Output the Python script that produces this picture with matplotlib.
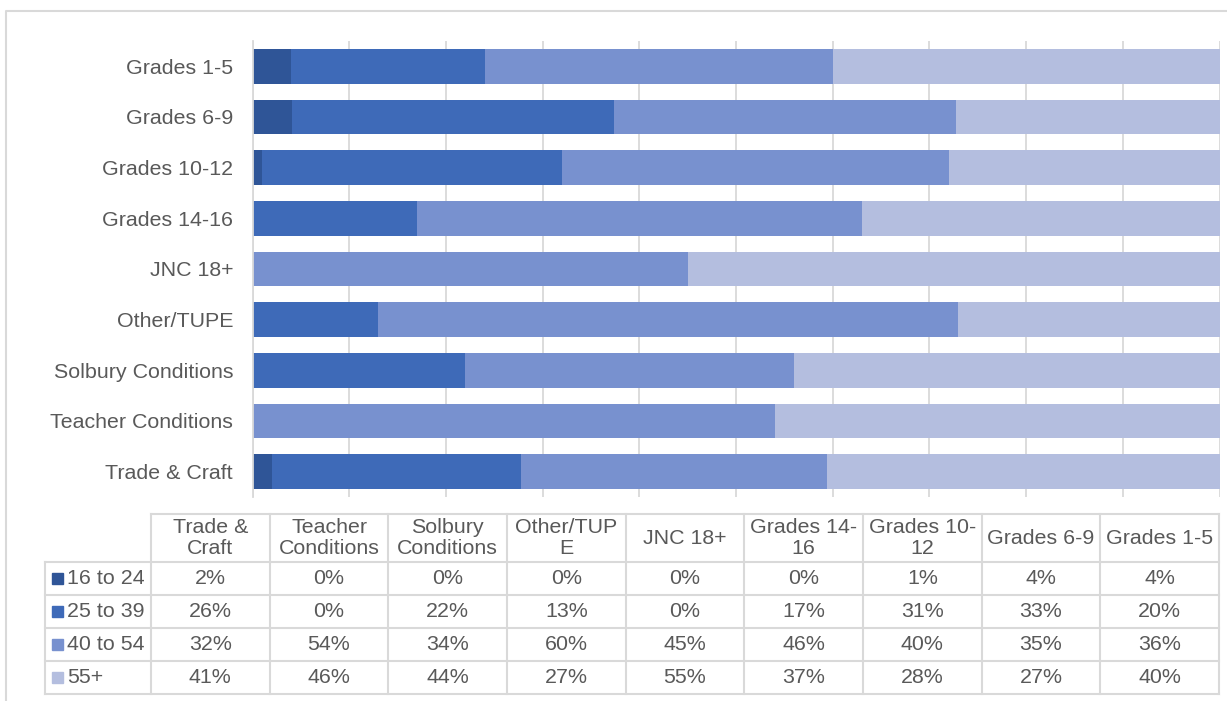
import numpy as np
import matplotlib
matplotlib.use("Agg")
import matplotlib.pyplot as plt
from matplotlib.patches import Rectangle

plt.rcParams['font.family'] = ['Liberation Sans', 'DejaVu Sans']

# data, in table order (bottom bar first)
categories = ["Trade & Craft", "Teacher Conditions", "Solbury Conditions", "Other/TUPE",
              "JNC 18+", "Grades 14-16", "Grades 10-12", "Grades 6-9", "Grades 1-5"]
table_headers = ["Trade &\nCraft", "Teacher\nConditions", "Solbury\nConditions", "Other/TUP\nE",
                 "JNC 18+", "Grades 14-\n16", "Grades 10-\n12", "Grades 6-9", "Grades 1-5"]
series_names = ["16 to 24", "25 to 39", "40 to 54", "55+"]
age_16_24 = [2, 0, 0, 0, 0, 0, 1, 4, 4]
age_25_39 = [26, 0, 22, 13, 0, 17, 31, 33, 20]
age_40_54 = [32, 54, 34, 60, 45, 46, 40, 35, 36]
age_55_plus = [41, 46, 44, 27, 55, 37, 28, 27, 40]

colors = ["#2F5597", "#3E6AB8", "#7891CF", "#B4BEDF"]
text_col = "#595959"
line_col = "#D9D9D9"
fs = 15.4

W, H = 1227, 701
fig = plt.figure(figsize=(W / 100, H / 100), dpi=100)


def px_axes(x0, y0, x1, y1, **kw):
    return fig.add_axes([x0 / W, 1 - y1 / H, (x1 - x0) / W, (y1 - y0) / H], **kw)


# outer chart border
bg = px_axes(0, 0, W, H)
bg.set_xlim(0, W)
bg.set_ylim(H, 0)
bg.axis("off")
bg.plot([6, 6, W], [H, 10.5, 10.5], color=line_col, lw=1.5)

# bars (each row scaled to 100%)
series = np.array([age_16_24, age_25_39, age_40_54, age_55_plus], dtype=float)
shares = series / series.sum(axis=0) * 100

ax = px_axes(252.5, 41, 1219.5, 497)
y = np.arange(len(categories))
left = np.zeros(len(categories))
for vals, c in zip(shares, colors):
    ax.barh(y, vals, left=left, height=0.69, color=c, edgecolor="none", zorder=2)
    left += vals
ax.set_xlim(0, 100)
ax.set_ylim(-0.5, len(categories) - 0.5)
ax.set_xticks(np.arange(0, 101, 10))
ax.set_xticklabels([])
ax.grid(axis="x", color=line_col, lw=1.3, zorder=0)
ax.set_yticks(y)
ax.set_yticklabels(categories, fontsize=fs, color=text_col)
ax.tick_params(length=0, pad=14)
for s in ["top", "right", "bottom"]:
    ax.spines[s].set_visible(False)
ax.spines["left"].set_color(line_col)
ax.spines["left"].set_linewidth(1.3)

# data table
tb = px_axes(0, 0, W, H)
tb.set_xlim(0, W)
tb.set_ylim(H, 0)
tb.axis("off")

col_x = np.linspace(151, 1219, len(categories) + 1)
row_y = [514, 562, 595, 628, 661, 694]
lab_x0 = 45

tb.plot([col_x[0], col_x[-1]], [row_y[0], row_y[0]], color=line_col, lw=1.5)
for yy in row_y[1:]:
    tb.plot([lab_x0, col_x[-1]], [yy, yy], color=line_col, lw=1.5)
for xx in col_x:
    tb.plot([xx, xx], [row_y[0], row_y[-1]], color=line_col, lw=1.5)
tb.plot([lab_x0, lab_x0], [row_y[1], row_y[-1]], color=line_col, lw=1.5)

for j, hdr in enumerate(table_headers):
    tb.text((col_x[j] + col_x[j + 1]) / 2, (row_y[0] + row_y[1]) / 2, hdr,
            ha="center", va="center", fontsize=fs, color=text_col, linespacing=1.15)

for i, (name, vals) in enumerate(zip(series_names, series)):
    yc = (row_y[i + 1] + row_y[i + 2]) / 2
    tb.add_patch(Rectangle((52, yc - 5.5), 11, 11, color=colors[i]))
    tb.text(67, yc, name, ha="left", va="center", fontsize=fs, color=text_col)
    for j, v in enumerate(vals):
        tb.text((col_x[j] + col_x[j + 1]) / 2, yc, f"{v:.0f}%",
                ha="center", va="center", fontsize=fs, color=text_col)

fig.savefig("out.png", dpi=100)
